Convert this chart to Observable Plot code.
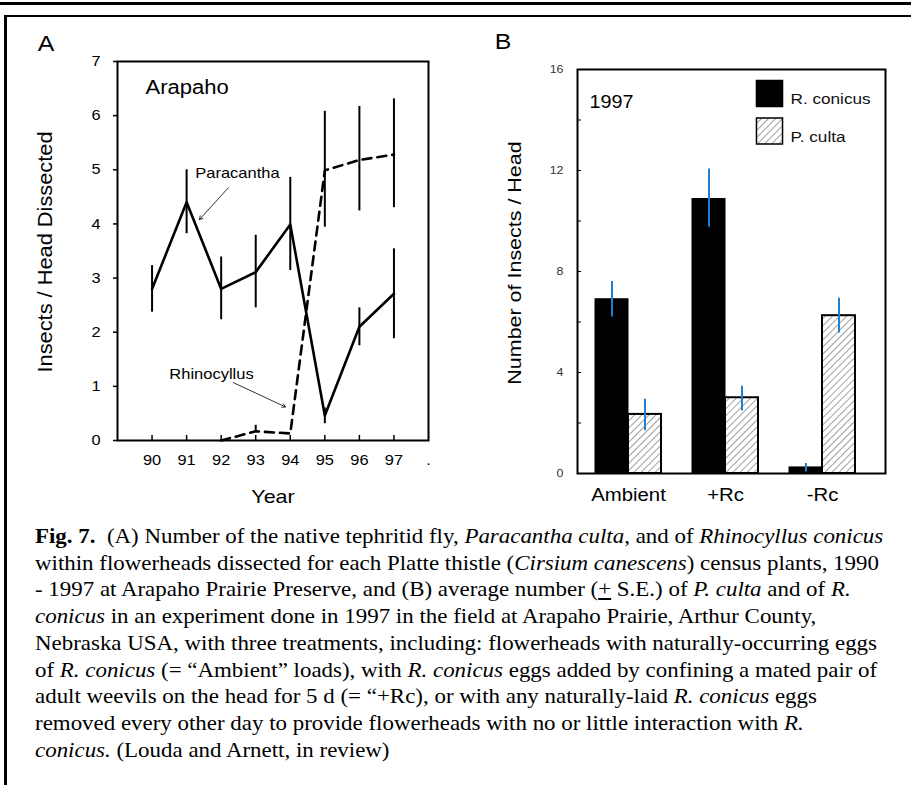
<!DOCTYPE html>
<html>
<head>
<meta charset="utf-8">
<script src="https://cdn.jsdelivr.net/npm/d3@7"></script>
<script src="https://cdn.jsdelivr.net/npm/@observablehq/plot@0.6"></script>
<style>
  html, body { margin: 0; padding: 0; background: #fff; }
  #page { position: relative; width: 911px; height: 785px; overflow: hidden; background: #fff; }
  .rule { position: absolute; background: #000; z-index: 5; }
  #panelA, #panelB { position: absolute; top: 0; }
  #panelA { left: 0; }
  #panelB { left: 455px; }
  #caption {
    position: absolute; left: 35px; top: 523px;
    font-family: "Liberation Serif", "Times New Roman", serif; font-size: 20.3px;
    line-height: 26.7px; color: #000; white-space: nowrap;
    transform: scaleX(1.13); transform-origin: 0 0;
  }
  svg text { font-family: "Liberation Sans", Arial, Helvetica, sans-serif; }
</style>
</head>
<body>
<div id="page">
  <div class="rule" style="left:0;top:2px;width:911px;height:3px"></div>
  <div class="rule" style="left:4px;top:15px;width:907px;height:2px"></div>
  <div class="rule" style="left:4px;top:15px;width:3px;height:770px"></div>
  <div id="panelA"></div>
  <div id="panelB"></div>
  <div id="caption">
    <b>Fig. 7.</b>&nbsp; (A) Number of the native tephritid fly, <i>Paracantha culta</i>, and of <i>Rhinocyllus conicus</i><br>
    within flowerheads dissected for each Platte thistle (<i>Cirsium canescens</i>) census plants, 1990<br>
    - 1997 at Arapaho Prairie Preserve, and (B) average number (<u>+</u> S.E.) of <i>P. culta</i> and of <i>R.</i><br>
    <i>conicus</i> in an experiment done in 1997 in the field at Arapaho Prairie, Arthur County,<br>
    Nebraska USA, with three treatments, including: flowerheads with naturally-occurring eggs<br>
    of <i>R. conicus</i> (= “Ambient” loads), with <i>R. conicus</i> eggs added by confining a mated pair of<br>
    adult weevils on the head for 5 d (= “+Rc), or with any naturally-laid <i>R. conicus</i> eggs<br>
    removed every other day to provide flowerheads with no or little interaction with <i>R.</i><br>
    <i>conicus.</i> (Louda and Arnett, in review)
  </div>
</div>
<script>
// ---------- Panel A data ----------
const years = [90, 91, 92, 93, 94, 95, 96, 97];
const paracantha = [2.8, 4.4, 2.8, 3.11, 3.99, 0.46, 2.1, 2.71];
const paracanthaLo = [2.37, 3.82, 2.23, 2.45, 3.14, 0.31, 1.75, 1.88];
const paracanthaHi = [3.23, 5.0, 3.39, 3.79, 4.86, 0.6, 2.45, 3.54];

const rhinoYears = [92, 93, 94, 95, 96, 97];
const rhino = [0, 0.17, 0.13, 4.99, 5.18, 5.28];
const rhinoLo = [null, 0.17, null, 3.94, 4.24, 4.30];
const rhinoHi = [null, 0.28, null, 6.08, 6.17, 6.31];

const yTicksA = [0, 1, 2, 3, 4, 5, 6, 7];
const xTicksA = [90, 91, 92, 93, 94, 95, 96, 97, 98];
const xTickLabelsA = ["90", "91", "92", "93", "94", "95", "96", "97", "."];

// annotation labels (data coordinates: year, value)
const annoLabels = [
  {text: "Paracantha", x: 92.47, y: 4.93},
  {text: "Rhinocyllus", x: 91.72, y: 1.22}
];
const annoArrows = [
  {x1: 92.21, y1: 4.67, x2: 91.37, y2: 4.08},
  {x1: 92.35, y1: 1.07, x2: 93.86, y2: 0.62}
];
const siteLabel = [{text: "Arapaho", x: 89.81, y: 6.52}];

// ---------- Panel B data ----------
const treatments = ["Ambient", "+Rc", "-Rc"];
const conicus = [6.9, 10.87, 0.24];
const conicusLo = [6.2, 9.75, 0.06];
const conicusHi = [7.6, 12.06, 0.4];
const culta = [2.34, 3.0, 6.25];
const cultaLo = [1.69, 2.48, 5.56];
const cultaHi = [2.94, 3.46, 6.94];
const yTicksB = [0, 4, 8, 12, 16];
const yMinorB = [2, 6, 10, 14];
const seriesNames = ["R. conicus", "P. culta"];

const FONT = "'Liberation Sans', Arial, Helvetica, sans-serif";
const blue = "#1f7fd0";
const STRETCH = 1.13; // the reference's lettering is wider than Liberation Sans

// widen every text along its own baseline, around its anchor point
function stretchText(svg) {
  d3.select(svg).selectAll("text").each(function () {
    const t = this.getAttribute("transform") || "";
    const x = this.getAttribute("x");
    const y = this.getAttribute("y");
    const hasXY = (x != null && !isNaN(+x)) || (y != null && !isNaN(+y));
    if (hasXY) {
      this.removeAttribute("x");
      this.removeAttribute("y");
    }
    const tr = hasXY ? ` translate(${+x || 0},${+y || 0})` : "";
    this.setAttribute("transform", `${t}${tr} scale(${STRETCH},1)`);
  });
}

// ---------- Panel A ----------
const idx = years.map((d, i) => i);
const ridx = rhinoYears.map((d, i) => i);
const ridxErr = ridx.filter(i => rhinoLo[i] != null);

const plotA = Plot.plot({
  width: 455, height: 520,
  marginLeft: 117, marginRight: 27, marginTop: 61, marginBottom: 80,
  style: {fontFamily: FONT, color: "#000", background: "none", overflow: "visible"},
  x: {domain: [89, 98]},
  y: {domain: [0, 7]},
  marks: [
    Plot.frame({stroke: "#000", strokeWidth: 2}),
    Plot.axisY({ticks: yTicksA, tickSize: 4, tickPadding: 13, fontSize: 14.5, label: null, stroke: "#000", strokeWidth: 1.5, tickFormat: (d) => String(d)}),
    Plot.axisX({ticks: xTicksA, tickSize: 0, tickPadding: 14, fontSize: 14.5, label: null, tickFormat: (d) => xTickLabelsA[xTicksA.indexOf(d)]}),
    Plot.tickX(xTicksA.slice(0, 8), {x: (d) => d, insetTop: 374, stroke: "#000", strokeWidth: 1.5}),
    // error bars
    Plot.ruleX(idx, {x: (i) => years[i], y1: (i) => paracantha[i] === null ? null : paracanthaLo[i], y2: (i) => paracanthaHi[i], stroke: "#000", strokeWidth: 2}),
    Plot.ruleX(ridxErr, {x: (i) => rhinoYears[i], y1: (i) => rhinoLo[i], y2: (i) => rhinoHi[i], stroke: "#000", strokeWidth: 2}),
    // lines
    Plot.line(idx, {x: (i) => years[i], y: (i) => paracantha[i], stroke: "#000", strokeWidth: 2.6}),
    Plot.line(ridx, {x: (i) => rhinoYears[i], y: (i) => rhino[i], stroke: "#000", strokeWidth: 2.6, strokeDasharray: "9,6"}),
    // annotations
    Plot.text(siteLabel, {x: "x", y: "y", text: "text", textAnchor: "start", fontSize: 19.5}),
    Plot.text(annoLabels, {x: "x", y: "y", text: "text", fontSize: 14.6}),
    Plot.arrow(annoArrows, {x1: "x1", y1: "y1", x2: "x2", y2: "y2", stroke: "#000", strokeWidth: 0.8, headLength: 7, bend: 0})
  ]
});
d3.select(plotA).append("text")
  .attr("transform", "translate(46,45)").attr("text-anchor", "middle").attr("dominant-baseline", "middle")
  .attr("font-size", 22).attr("font-family", FONT).text("A");
d3.select(plotA).append("text")
  .attr("transform", "translate(47,252) rotate(-90)").attr("text-anchor", "middle").attr("dominant-baseline", "middle")
  .attr("font-size", 19.3).attr("font-family", FONT).text("Insects / Head Dissected");
d3.select(plotA).append("text")
  .attr("transform", "translate(273,498)").attr("text-anchor", "middle").attr("dominant-baseline", "middle")
  .attr("font-size", 19).attr("font-family", FONT).text("Year");
stretchText(plotA);
document.getElementById("panelA").appendChild(plotA);

// ---------- Panel B ----------
const tidx = treatments.map((d, i) => i);
const BAR_HALF = 33;
const legendRowDy = [24, 61.5];

const plotB = Plot.plot({
  width: 456, height: 520,
  marginLeft: 122, marginRight: 26, marginTop: 69, marginBottom: 47,
  style: {fontFamily: FONT, color: "#000", background: "none", overflow: "visible"},
  x: {domain: treatments, paddingInner: 0.32, paddingOuter: 0.2475, align: 0.375},
  y: {domain: [0, 16]},
  marks: [
    Plot.barY(tidx, {x: (i) => treatments[i], y: (i) => conicus[i], fill: "#000", stroke: "#000", strokeWidth: 1, insetRight: BAR_HALF}),
    Plot.barY(tidx, {x: (i) => treatments[i], y: (i) => culta[i], fill: "url(#hatchB)", stroke: "#000", strokeWidth: 2, insetLeft: BAR_HALF}),
    Plot.ruleX(tidx, {x: (i) => treatments[i], y1: (i) => conicusLo[i], y2: (i) => conicusHi[i], stroke: blue, strokeWidth: 2, dx: -BAR_HALF / 2}),
    Plot.ruleX(tidx, {x: (i) => treatments[i], y1: (i) => cultaLo[i], y2: (i) => cultaHi[i], stroke: blue, strokeWidth: 2, dx: BAR_HALF / 2}),
    Plot.frame({stroke: "#000", strokeWidth: 2}),
    Plot.axisY({ticks: yTicksB, tickSize: 0, tickPadding: 14, fontSize: 11, label: null, fill: "#333", tickFormat: (d) => String(d)}),
    Plot.tickY(yTicksB.concat(yMinorB), {y: (d) => d, insetRight: 304, stroke: "#000", strokeWidth: 1}),
    Plot.axisX({tickSize: 0, tickPadding: 15, fontSize: 18, label: null}),
    // legend (row 1: R. conicus, row 2: P. culta)
    Plot.dot([seriesNames[0]], {frameAnchor: "top-left", dx: 192, dy: legendRowDy[0], symbol: "square", r: 14.7,
      fill: "#000", stroke: "#000", strokeWidth: 1.5}),
    Plot.dot([seriesNames[1]], {frameAnchor: "top-left", dx: 192, dy: legendRowDy[1], symbol: "square", r: 14.7,
      fill: "url(#hatchB)", stroke: "#000", strokeWidth: 1.5}),
    Plot.text([seriesNames[0]], {frameAnchor: "top-left", dx: 213, dy: legendRowDy[0], text: (d) => d, textAnchor: "start", fontSize: 15.2, fill: "#111"}),
    Plot.text([seriesNames[1]], {frameAnchor: "top-left", dx: 213, dy: legendRowDy[1], text: (d) => d, textAnchor: "start", fontSize: 15.2, fill: "#111"}),
    Plot.text(["1997"], {frameAnchor: "top-left", dx: 12, dy: 26, text: (d) => d, textAnchor: "start", fontSize: 17.5})
  ]
});
const svgB = d3.select(plotB);
const defs = svgB.insert("defs", ":first-child");
const pat = defs.append("pattern").attr("id", "hatchB").attr("patternUnits", "userSpaceOnUse")
  .attr("width", 5).attr("height", 5).attr("patternTransform", "rotate(45)");
pat.append("rect").attr("width", 5).attr("height", 5).attr("fill", "#fff");
pat.append("line").attr("x1", 0).attr("y1", 0).attr("x2", 0).attr("y2", 5).attr("stroke", "#444").attr("stroke-width", 1);

svgB.append("text")
  .attr("transform", "translate(48,43)").attr("text-anchor", "middle").attr("dominant-baseline", "middle")
  .attr("font-size", 22).attr("font-family", FONT).text("B");
svgB.append("text")
  .attr("transform", "translate(61,263) rotate(-90)").attr("text-anchor", "middle").attr("dominant-baseline", "middle")
  .attr("font-size", 19).attr("font-family", FONT).text("Number of Insects / Head");
stretchText(plotB);
document.getElementById("panelB").appendChild(plotB);
</script>
</body>
</html>
